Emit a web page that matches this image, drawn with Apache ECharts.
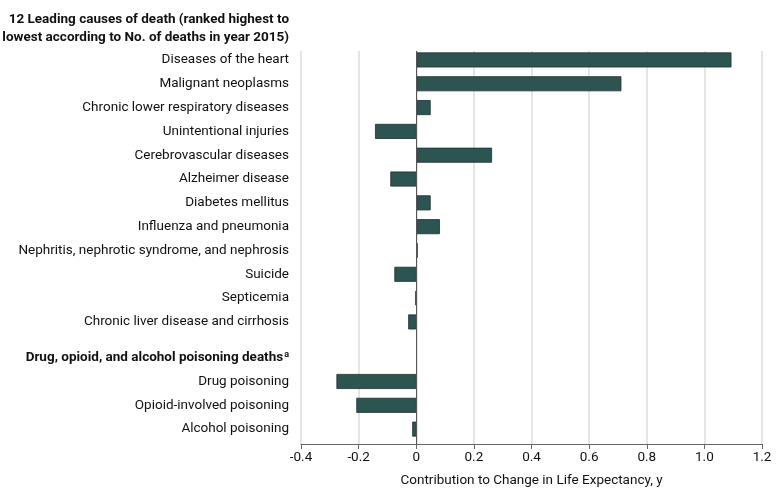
<!DOCTYPE html>
<html>
<head>
<meta charset="utf-8">
<script src="https://cdn.jsdelivr.net/npm/echarts@6/dist/echarts.min.js"></script>
<style>
  html, body { margin: 0; padding: 0; background: #fff; }
  #chart { width: 778px; height: 497px; }
</style>
</head>
<body>
<div id="chart"></div>
<script>
// ---- Data ----
const titleLines = ['12 Leading causes of death (ranked highest to', 'lowest according to No. of deaths in year 2015)'];
const causes = [
  'Diseases of the heart',
  'Malignant neoplasms',
  'Chronic lower respiratory diseases',
  'Unintentional injuries',
  'Cerebrovascular diseases',
  'Alzheimer disease',
  'Diabetes mellitus',
  'Influenza and pneumonia',
  'Nephritis, nephrotic syndrome, and nephrosis',
  'Suicide',
  'Septicemia',
  'Chronic liver disease and cirrhosis'
];
const causeValues = [1.094, 0.712, 0.050, -0.143, 0.263, -0.090, 0.050, 0.082, 0.005, -0.076, -0.003, -0.028];
const drugHeader = 'Drug, opioid, and alcohol poisoning deaths';
const drugCauses = ['Drug poisoning', 'Opioid-involved poisoning', 'Alcohol poisoning'];
const drugValues = [-0.277, -0.208, -0.014];
const xTicks = [-0.4, -0.2, 0, 0.2, 0.4, 0.6, 0.8, 1.0, 1.2];
const xAxisName = 'Contribution to Change in Life Expectancy, y';

// ---- Build category slots (fine-grained rows for spacing) ----
const cats = [];
const vals = [];
let padCount = 0;
function pad(n) { for (let i = 0; i < n; i++) { cats.push('_pad' + (padCount++)); vals.push(null); } }
pad(1);
causes.forEach((c, i) => { cats.push(c); vals.push(causeValues[i]); if (i < causes.length - 1) pad(3); });
pad(5);
cats.push(drugHeader); vals.push(null);
drugCauses.forEach((c, i) => { pad(3); cats.push(c); vals.push(drugValues[i]); });
pad(2);

const FONT = 'Roboto, Lato, sans-serif';
const FS = 13.5;

const chart = echarts.init(document.getElementById('chart'), null, { renderer: 'canvas' });
chart.setOption({
  animation: false,
  backgroundColor: '#fff',
  textStyle: { fontFamily: FONT },
  graphic: [{
    type: 'text',
    x: 289, y: 11,
    style: {
      text: titleLines.join('\n'),
      align: 'right',
      verticalAlign: 'top',
      font: 'bold ' + FS + 'px ' + FONT,
      lineHeight: 18,
      fill: '#111'
    }
  }],
  grid: { left: 301, right: 16, top: 51, bottom: 53, containLabel: false, outerBoundsMode: 'none' },
  xAxis: {
    type: 'value',
    min: xTicks[0],
    max: xTicks[xTicks.length - 1],
    interval: 0.2,
    name: xAxisName,
    nameLocation: 'middle',
    nameGap: 30,
    nameTextStyle: { fontFamily: FONT, fontSize: FS, color: '#111' },
    axisLine: { show: true, lineStyle: { color: '#666', width: 1 } },
    axisTick: { show: true, length: 5, lineStyle: { color: '#666' } },
    axisLabel: {
      fontFamily: FONT, fontSize: FS, color: '#111', margin: 7,
      formatter: v => Math.abs(v) < 1e-9 ? '0' : v.toFixed(1)
    },
    splitLine: { show: true, lineStyle: { color: '#dcdcdc', width: 1.5 } }
  },
  yAxis: {
    type: 'category',
    inverse: true,
    data: cats,
    axisLine: { show: false },
    axisTick: { show: false },
    splitLine: { show: false },
    axisLabel: {
      interval: 0,
      margin: 12,
      fontFamily: FONT,
      fontSize: FS,
      color: '#111',
      formatter: v => v.startsWith('_pad') ? '' : (v === drugHeader ? '{b|' + v + '}{sup|a}' : v),
      rich: {
        b: { fontFamily: FONT, fontSize: FS, fontWeight: 'bold', color: '#111' },
        sup: { fontFamily: FONT, fontSize: 9, fontWeight: 'bold', color: '#111', verticalAlign: 'top', padding: [0, 0, 6, 1] }
      }
    }
  },
  series: [{
    type: 'bar',
    data: vals,
    barWidth: 15,
    itemStyle: { color: '#2c5451', borderColor: '#1f2f2e', borderWidth: 0.8 },
    markLine: {
      silent: true,
      symbol: 'none',
      label: { show: false },
      lineStyle: { color: '#555', type: 'solid', width: 1 },
      data: [{ xAxis: 0 }]
    }
  }]
});
</script>
</body>
</html>
